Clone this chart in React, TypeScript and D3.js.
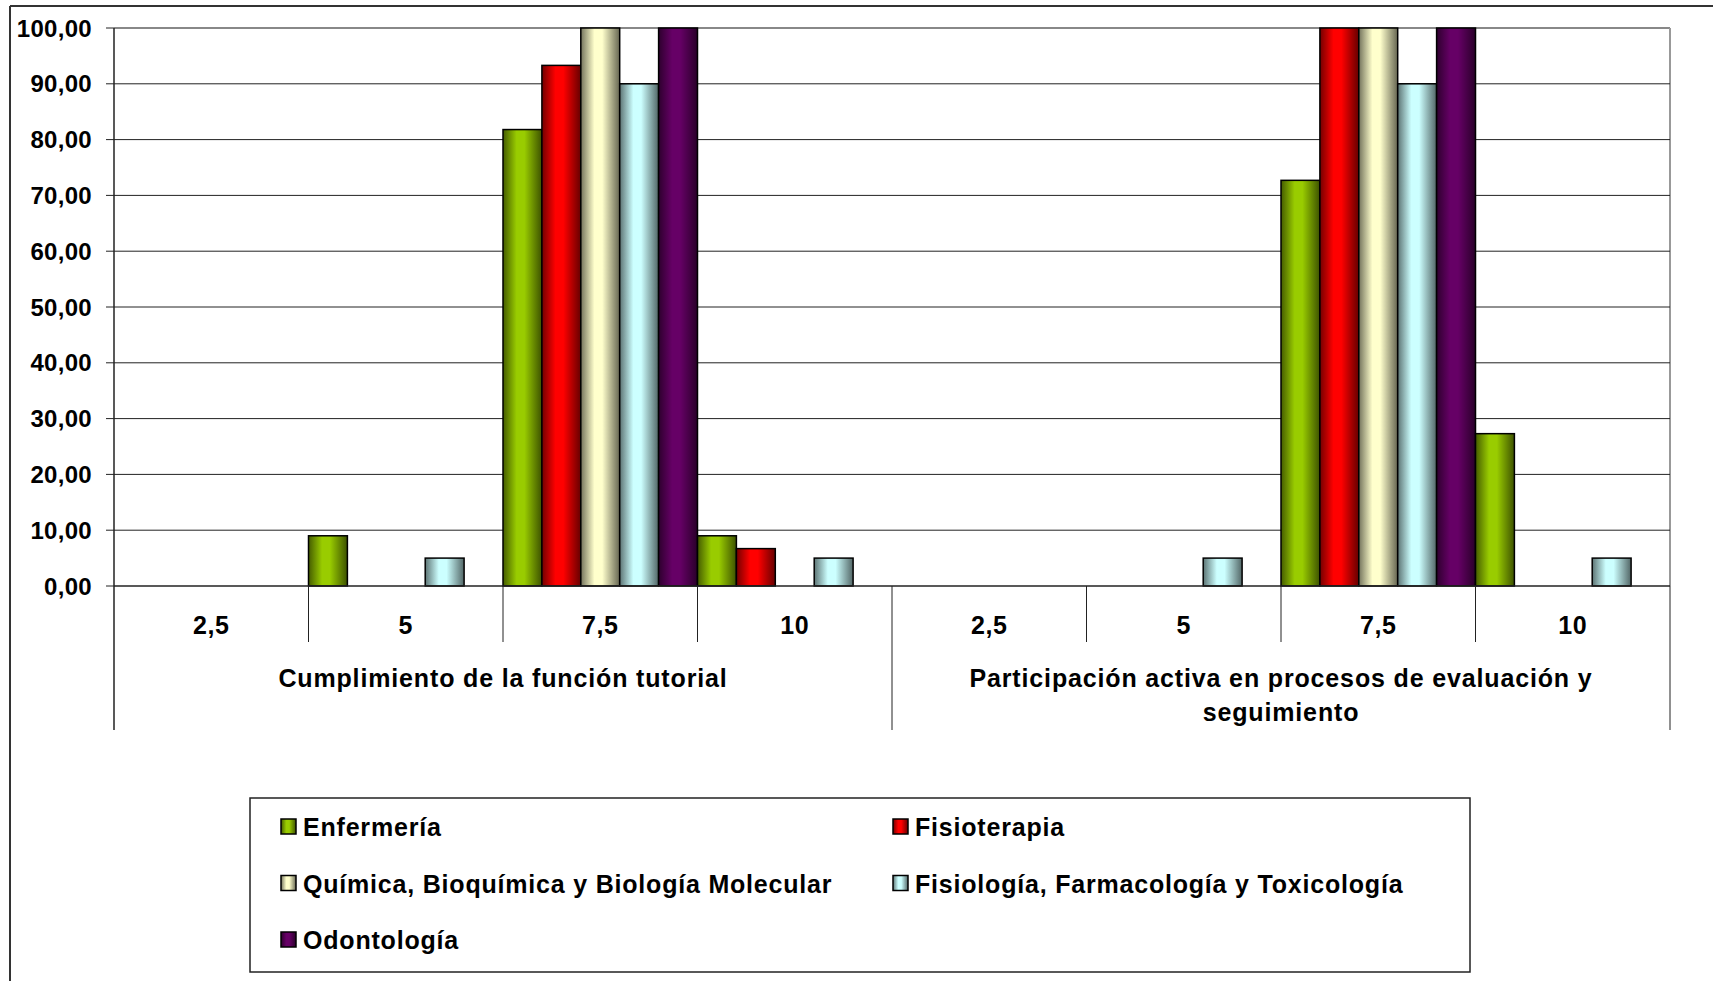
import React from "react";
import * as d3 from "d3";

const groups = ["Cumplimiento de la función tutorial", "Participación activa en procesos de evaluación y seguimiento"];
const groupLines = [["Cumplimiento de la función tutorial"], ["Participación activa en procesos de evaluación y", "seguimiento"]];
const categories = ["2,5", "5", "7,5", "10"];
const seriesNames = ["Enfermería", "Fisioterapia", "Química, Bioquímica y Biología Molecular", "Fisiología, Farmacología y Toxicología", "Odontología"];
const seriesColors = ["#99CC00", "#FF0000", "#FFFFCC", "#CCFFFF", "#660066"];
// values[series][group*4 + category]
const enfermeria = [0, 9.0, 81.8, 9.0, 0, 0, 72.7, 27.3];
const fisioterapia = [0, 0, 93.3, 6.7, 0, 0, 100, 0];
const quimica = [0, 0, 100, 0, 0, 0, 100, 0];
const fisiologia = [0, 5.0, 90, 5.0, 0, 5.0, 90, 5.0];
const odontologia = [0, 0, 100, 0, 0, 0, 100, 0];
const seriesValues = [enfermeria, fisioterapia, quimica, fisiologia, odontologia];
const yTicks = [0, 10, 20, 30, 40, 50, 60, 70, 80, 90, 100];

const FONT = "'Liberation Sans', Arial, sans-serif";

export default function App() {
  const W = 1713, H = 981;
  const left = 114, right = 1670, top = 28, bottom = 586;
  const slots = groups.flatMap((g, gi) => categories.map((c, ci) => `${gi}-${ci}`));
  const x = d3.scaleBand<string>().domain(slots).range([left, right]).paddingInner(0).paddingOuter(0);
  const xs = d3.scaleBand<number>().domain(d3.range(seriesNames.length)).range([0, x.bandwidth()]).padding(0);
  const y = d3.scaleLinear().domain([0, 100]).range([bottom, top]);
  const fmt = (v: number) => d3.format(".2f")(v).replace(".", ",");
  const groupX = (gi: number) => {
    const a = x(`${gi}-0`)!;
    const b = x(`${gi}-${categories.length - 1}`)! + x.bandwidth();
    return [a, b];
  };
  const dark = (c: string, k: number) => d3.interpolateRgb(c, "#000")(k);

  return (
    <svg width={W} height={H} style={{ position: "absolute", left: 0, top: 0, background: "#fff" }} fontFamily={FONT}>
      <defs>
        {seriesColors.map((c, i) => (
          <linearGradient key={i} id={`g${i}`} x1="0" x2="1" y1="0" y2="0">
            <stop offset="0%" stopColor={dark(c, 0.55)} />
            <stop offset="35%" stopColor={c} />
            <stop offset="55%" stopColor={c} />
            <stop offset="100%" stopColor={dark(c, 0.6)} />
          </linearGradient>
        ))}
      </defs>
      <rect x={0} y={0} width={W} height={H} fill="#fff" />
      {/* outer border: top and left */}
      <line x1={10} x2={W} y1={6} y2={6} stroke="#333" strokeWidth={2} />
      <line x1={10} x2={10} y1={6} y2={H} stroke="#333" strokeWidth={2} />

      {/* plot area border */}
      <line x1={left} x2={right} y1={top} y2={top} stroke="#888" strokeWidth={2} />
      <line x1={right} x2={right} y1={top} y2={bottom} stroke="#999" strokeWidth={2} />

      {/* gridlines and y ticks */}
      {yTicks.map((t) => (
        <g key={t}>
          {t > 0 && t < 100 && <line x1={left} x2={right} y1={y(t)} y2={y(t)} stroke="#222" strokeWidth={1} />}
          <line x1={left - 8} x2={left} y1={y(t)} y2={y(t)} stroke="#222" strokeWidth={1} />
          <text x={92} y={y(t)} dy="0.36em" textAnchor="end" fontSize={24} fontWeight="bold" fill="#000" letterSpacing={0.3}>
            {fmt(t)}
          </text>
        </g>
      ))}

      {/* bars */}
      {slots.map((s, si) => (
        <g key={s} transform={`translate(${x(s)},0)`}>
          {seriesValues.map((vals, k) =>
            vals[si] > 0 ? (
              <rect
                key={k}
                x={xs(k)!}
                y={y(vals[si])}
                width={xs.bandwidth()}
                height={bottom - y(vals[si])}
                fill={`url(#g${k})`}
                stroke="#000"
                strokeWidth={1.5}
              />
            ) : null
          )}
        </g>
      ))}

      {/* baseline and axes */}
      <line x1={left} x2={right} y1={bottom} y2={bottom} stroke="#222" strokeWidth={1.5} />
      <line x1={left} x2={left} y1={top} y2={730} stroke="#222" strokeWidth={1.5} />
      {slots.map((s, si) =>
        si > 0 && si % categories.length !== 0 ? (
          <line key={s} x1={x(s)!} x2={x(s)!} y1={bottom} y2={642} stroke="#222" strokeWidth={1} />
        ) : null
      )}
      {groups.map((g, gi) => {
        const [, b] = groupX(gi);
        return <line key={g} x1={b} x2={b} y1={bottom} y2={730} stroke="#222" strokeWidth={1} />;
      })}

      {/* category labels */}
      {slots.map((s, si) => (
        <text key={s} x={x(s)! + x.bandwidth() / 2} y={634} textAnchor="middle" fontSize={25} fontWeight="bold" fill="#000" letterSpacing={0.5}>
          {categories[si % categories.length]}
        </text>
      ))}
      {/* group labels */}
      {groupLines.map((lines, gi) => {
        const [a, b] = groupX(gi);
        return lines.map((ln, li) => (
          <text key={`${gi}-${li}`} x={(a + b) / 2} y={687 + li * 34} textAnchor="middle" fontSize={25} fontWeight="bold" fill="#000" letterSpacing={0.85}>
            {ln}
          </text>
        ));
      })}

      {/* legend */}
      <rect x={250} y={798} width={1220} height={174} fill="#fff" stroke="#222" strokeWidth={1.5} />
      {seriesNames.map((n, i) => {
        const col = i % 2;
        const row = Math.floor(i / 2);
        const lx = col === 0 ? 281 : 893;
        const ly = 827 + row * 56.5;
        return (
          <g key={n}>
            <rect x={lx} y={ly - 8} width={15} height={15} fill={`url(#g${i})`} stroke="#000" strokeWidth={1.5} />
            <text x={lx + 22} y={ly} dy="0.36em" fontSize={25} fontWeight="bold" fill="#000" letterSpacing={0.8}>
              {n}
            </text>
          </g>
        );
      })}
    </svg>
  );
}
